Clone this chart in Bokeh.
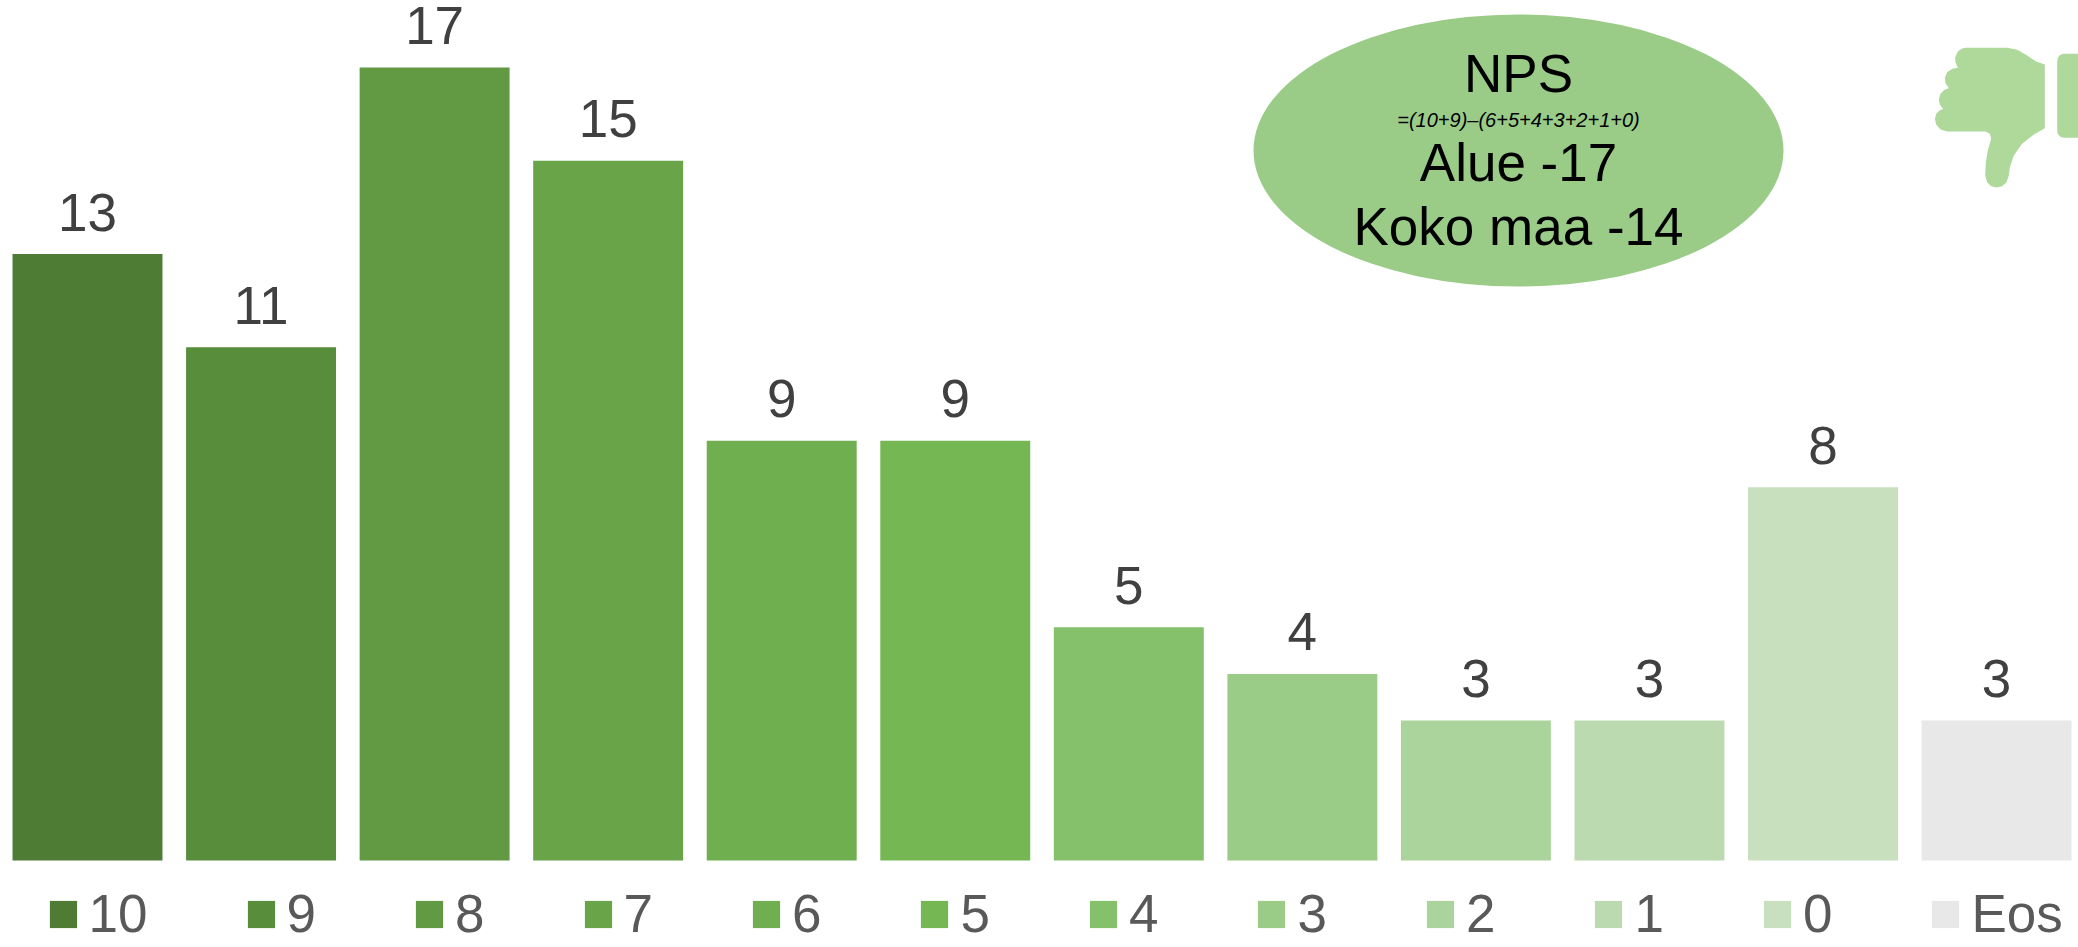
from bokeh.plotting import figure
from bokeh.models import Range1d, ColumnDataSource, Legend, LegendItem
from bokeh.core.properties import value
from bokeh.embed import file_html
from bokeh.resources import INLINE

categories = ["10", "9", "8", "7", "6", "5", "4", "3", "2", "1", "0", "Eos"]
values = [13, 11, 17, 15, 9, 9, 5, 4, 3, 3, 8, 3]
colors = ["#4E7C34", "#588D3C", "#629A43", "#69A449", "#6FAF4F", "#75B753",
          "#85C16A", "#9ACC88", "#ABD49C", "#BCDAAF", "#C9E0BF", "#E8E8E8"]
positions = list(range(len(categories)))

FONT = "Liberation Sans"
W, H = 2078, 947

p = figure(width=W, height=H, output_backend="svg", toolbar_location=None,
           x_range=Range1d(-0.5013, 11.4721), y_range=Range1d(-1.865, 18.435),
           min_border=0, outline_line_color=None)
p.xaxis.visible = False
p.yaxis.visible = False
p.grid.visible = False
p.background_fill_color = None
p.border_fill_color = None

p.extra_x_ranges["px"] = Range1d(0, W)
p.extra_y_ranges["px"] = Range1d(H, 0)

src = ColumnDataSource(dict(x=positions, top=values, label=[str(v) for v in values],
                            cat=categories, color=colors))
bars = p.vbar(x="x", top="top", bottom=0, width=0.864, source=src,
              fill_color="color", line_color=None)
p.text(x="x", y="top", text="label", source=src, y_offset=-42,
       text_align="center", text_baseline="alphabetic",
       text_font=value(FONT), text_font_size="53px", text_color="#404040")

legend = Legend(items=[LegendItem(label=c, renderers=[bars], index=i)
                       for i, c in enumerate(categories)],
                orientation="horizontal", location=(45.6, 3),
                glyph_width=34, glyph_height=34, label_standoff=9, spacing=96,
                padding=0, margin=0, border_line_color=None,
                background_fill_alpha=0, label_text_font=FONT,
                label_text_font_size="53px", label_text_color="#595959",
                label_height=34, label_text_line_height=1.0)
p.add_layout(legend, "center")

# NPS badge, drawn on a pixel-scaled overlay range
p.ellipse(x=[1518], y=[150], width=[530], height=[272], fill_color="#9ACC88",
          line_color=None, x_range_name="px", y_range_name="px")
badge_lines = [("NPS", 73, "53px", "normal"),
               ("=(10+9)–(6+5+4+3+2+1+0)", 119, "20px", "italic"),
               ("Alue -17", 162, "53px", "normal"),
               ("Koko maa -14", 226, "53px", "normal")]
for txt, base, size, style in badge_lines:
    p.text(x=[1518], y=[base], text=[txt], x_range_name="px", y_range_name="px",
           text_align="center", text_baseline="alphabetic", text_color="#000000",
           text_font=value(FONT), text_font_size=size, text_font_style=style)

# Thumbs-down icon
thumb = [(135,52),(260,52),(290,58),(320,75),(345,92),(373,102),(373,293),(340,312),
         (305,340),(280,375),(268,410),(265,435),(258,455),(245,467),(228,471),(212,467),
         (200,455),(194,435),(196,395),(202,360),(212,325),(208,310),(195,303),(80,303),
         (60,297),(47,282),(43,265),(48,248),(60,238),(68,236),(58,222),(55,207),(60,190),
         (72,178),(85,173),(75,158),(73,142),(80,125),(95,115),(112,112),(105,95),(104,80),
         (112,63),(125,54)]
cuff = [(430,70),(480,70),(480,322),(430,322),(418,318),(411,308),(410,295),
        (410,95),(412,82),(419,73)]
for shape in (thumb, cuff):
    p.patch(x=[1920 + a / 3 for a, _ in shape], y=[30 + b / 3 for _, b in shape],
            fill_color="#AFD89B", line_color=None, x_range_name="px", y_range_name="px")

open("out.html", "w").write(file_html(p, INLINE))
